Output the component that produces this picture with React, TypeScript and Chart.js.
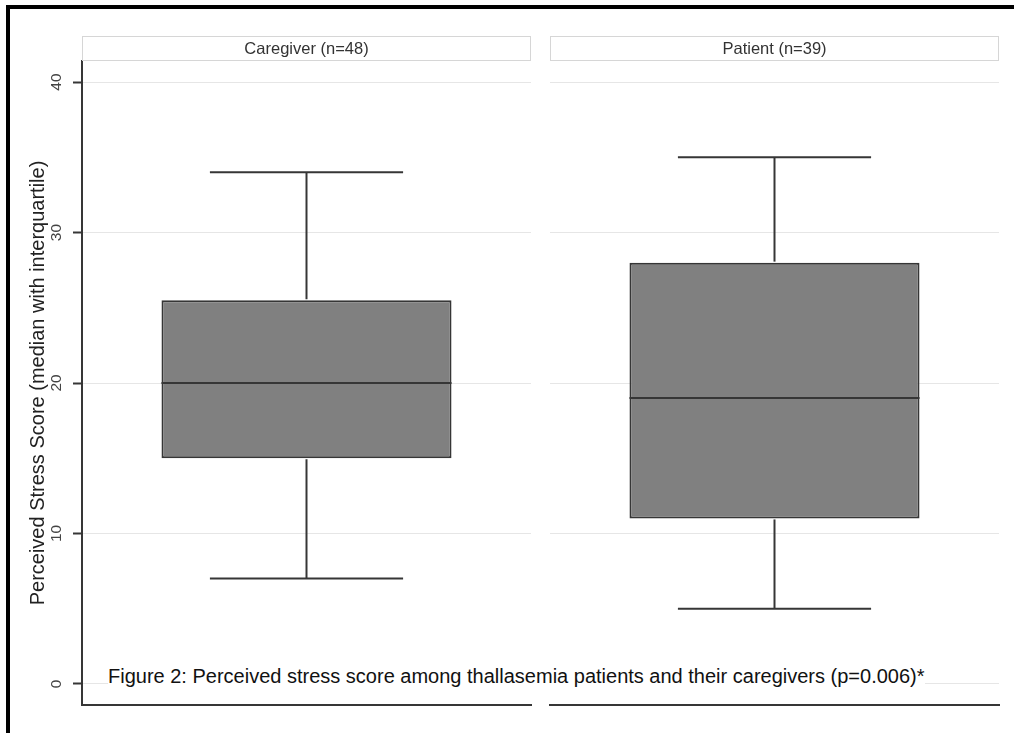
import React, { useEffect, useRef } from "react";
import { Chart, registerables } from "chart.js";

Chart.register(...registerables);

const groups = ["Caregiver (n=48)", "Patient (n=39)"];
const whiskerLow = [7, 5];
const quartile1 = [15, 11];
const medians = [20, 19];
const quartile3 = [25.5, 28];
const whiskerHigh = [34, 35];
const yTicks = [0, 10, 20, 30, 40];
const yMin = -1.4;
const yMax = 41.4;
const yTitle = "Perceived Stress Score (median with interquartile)";
const caption =
  "Figure 2: Perceived stress score among thallasemia patients and their caregivers (p=0.006)*";

const FONT = "'Liberation Sans', Arial, Helvetica, sans-serif";
const DARK = "#363636";

type PanelProps = {
  index: number;
  showAxis: boolean;
  left: number;
  width: number;
  padLeft: number;
  padRight: number;
};

function Panel({ index, showAxis, left, width, padLeft, padRight }: PanelProps) {
  const ref = useRef<HTMLCanvasElement>(null);

  useEffect(() => {
    if (!ref.current) return;

    const boxPlugin = {
      id: "boxParts",
      afterDatasetsDraw(chart: any) {
        const ctx = chart.ctx;
        const bar = chart.getDatasetMeta(0).data[0] as any;
        const ys = chart.scales.y;
        const x = bar.x;
        const w = bar.width;
        const cap = w * 0.666;
        const line = (x1: number, y1: number, x2: number, y2: number) => {
          ctx.beginPath();
          ctx.moveTo(x1, y1);
          ctx.lineTo(x2, y2);
          ctx.stroke();
        };
        ctx.save();
        ctx.strokeStyle = DARK;
        ctx.lineWidth = 2;
        const yMed = ys.getPixelForValue(medians[index]);
        const yQ1 = ys.getPixelForValue(quartile1[index]);
        const yQ3 = ys.getPixelForValue(quartile3[index]);
        const yHi = ys.getPixelForValue(whiskerHigh[index]);
        const yLo = ys.getPixelForValue(whiskerLow[index]);
        line(x - w / 2, yMed, x + w / 2, yMed);
        line(x, yQ3 - 1, x, yHi);
        line(x - cap / 2, yHi, x + cap / 2, yHi);
        line(x, yQ1 + 1, x, yLo);
        line(x - cap / 2, yLo, x + cap / 2, yLo);
        ctx.restore();
      },
    };

    const stripPlugin = {
      id: "strip",
      afterDraw(chart: any) {
        const { ctx, chartArea } = chart;
        const top = chartArea.top - 25;
        const h = 24;
        ctx.save();
        ctx.fillStyle = "#ffffff";
        ctx.fillRect(chartArea.left, top, chartArea.width, h);
        ctx.strokeStyle = "#d6d6d6";
        ctx.lineWidth = 1;
        ctx.strokeRect(chartArea.left + 0.5, top + 0.5, chartArea.width - 1, h);
        ctx.fillStyle = "#333333";
        ctx.font = `16.5px ${FONT}`;
        ctx.textAlign = "center";
        ctx.textBaseline = "middle";
        ctx.fillText(groups[index], (chartArea.left + chartArea.right) / 2, top + h / 2 + 1);
        ctx.restore();
      },
    };

    const chart = new Chart(ref.current, {
      type: "bar",
      data: {
        labels: [groups[index]],
        datasets: [
          {
            data: [[quartile1[index], quartile3[index]]] as any,
            backgroundColor: "#808080",
            borderColor: DARK,
            borderWidth: 2,
            borderSkipped: false,
            barPercentage: 0.646,
            categoryPercentage: 1,
          },
        ],
      },
      options: {
        animation: false,
        responsive: false,
        devicePixelRatio: 1,
        layout: { padding: { left: padLeft, right: padRight, top: 61, bottom: 28 } },
        plugins: { legend: { display: false }, tooltip: { enabled: false } },
        scales: {
          x: {
            display: true,
            grid: { display: false, drawTicks: false },
            ticks: { display: false },
            border: { display: true, color: DARK, width: 2 },
            afterFit: (s: any) => {
              s.height = 0;
            },
          },
          y: {
            min: yMin,
            max: yMax,
            afterBuildTicks: (s: any) => {
              s.ticks = yTicks.map((v) => ({ value: v }));
            },
            grid: {
              color: "#e6e6e6",
              lineWidth: 1,
              drawTicks: showAxis,
              tickLength: 9,
              tickColor: DARK,
              tickWidth: 2,
            },
            border: { display: showAxis, color: DARK, width: 2 },
            ticks: {
              display: showAxis,
              minRotation: 90,
              maxRotation: 90,
              crossAlign: "center",
              padding: 8,
              color: "#444444",
              font: { family: FONT, size: 15.5 },
            },
            title: {
              display: showAxis,
              text: yTitle,
              color: "#222222",
              font: { family: FONT, size: 20 },
              padding: { top: 26, bottom: 0 },
            },
            afterFit: (s: any) => {
              s.width = showAxis ? 82 : 0;
            },
          },
        },
      } as any,
      plugins: [boxPlugin, stripPlugin],
    });
    return () => chart.destroy();
  }, [index, showAxis, padLeft, padRight]);

  return (
    <canvas
      ref={ref}
      width={width}
      height={733}
      style={{ position: "absolute", left, top: 0, width, height: 733 }}
    />
  );
}

export default function App() {
  return (
    <div
      style={{
        position: "fixed",
        left: 0,
        top: 0,
        width: 1014,
        height: 733,
        background: "#ffffff",
        overflow: "hidden",
      }}
    >
      <Panel index={0} showAxis={true} left={0} width={540} padLeft={0} padRight={9} />
      <Panel index={1} showAxis={false} left={540} width={474} padLeft={10} padRight={15} />
      <div
        style={{
          position: "absolute",
          left: 108,
          top: 664,
          fontFamily: FONT,
          fontSize: 20,
          lineHeight: "24px",
          color: "#111111",
          background: "#ffffff",
          whiteSpace: "nowrap",
        }}
      >
        {caption}
      </div>
      <div
        style={{
          position: "absolute",
          left: 6,
          top: 5,
          width: 1010,
          height: 730,
          boxSizing: "border-box",
          borderTop: "4px solid #000",
          borderLeft: "4px solid #000",
          pointerEvents: "none",
        }}
      />
    </div>
  );
}
